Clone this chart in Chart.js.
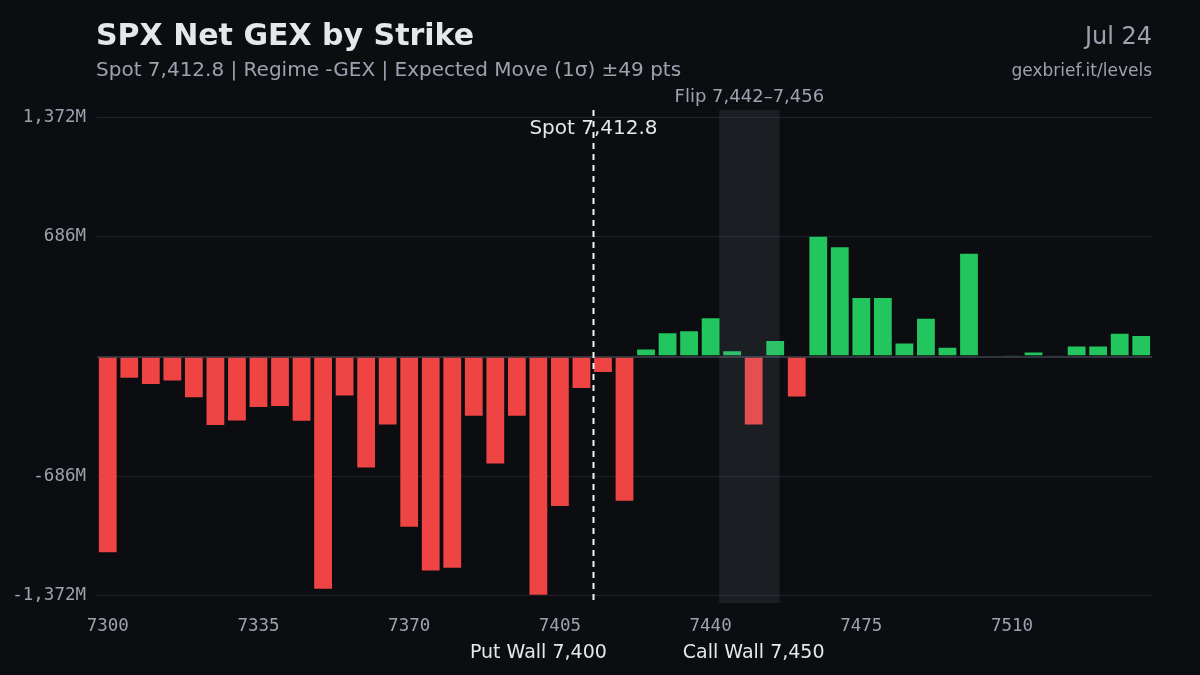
<!DOCTYPE html>
<html>
<head>
<meta charset="utf-8">
<script src="https://cdn.jsdelivr.net/npm/chart.js@4.4.1/dist/chart.umd.min.js"></script>
<style>
  html, body { margin: 0; padding: 0; background: #0b0d11; }
</style>
</head>
<body>
<canvas id="chartGex" width="1200" height="675"></canvas>
<script>
// strikes and net gamma exposure (millions)
const strikes = [
  7300, 7305, 7310, 7315, 7320, 7325, 7330, 7335, 7340, 7345,
  7350, 7355, 7360, 7365, 7370, 7375, 7380, 7385, 7390, 7395,
  7400, 7405, 7410, 7415, 7420, 7425, 7430, 7435, 7440, 7445,
  7450, 7455, 7460, 7465, 7470, 7475, 7480, 7485, 7490, 7495,
  7500, 7505, 7510, 7515, 7520, 7525, 7530, 7535, 7540
];
const netGex = [
  -1128, -128, -164, -143, -239, -399, -373, -296, -289, -375,
  -1338, -229, -642, -396, -983, -1233, -1218, -346, -619, -346,
  -1372, -864, -187, -94, -833, 46, 139, 151, 225, 36,
  -396, 94, -235, 692, 633, 342, 342, 80, 222, 56,
  595, 5, 9, 29, 4, 63, 63, 136, 124
];
const yTicks = [-1372, -686, 0, 686, 1372];

const spot = 7412.8;
const flipLow = 7442;
const flipHigh = 7456;
const putWall = 7400;
const callWall = 7450;

const titleText = "SPX Net GEX by Strike";
const subText = "Spot 7,412.8 | Regime -GEX | Expected Move (1σ) ±49 pts";
const dateText = "Jul 24";
const siteText = "gexbrief.it/levels";

const chartGex = document.getElementById("chartGex");

// strike -> pixel on the category axis (fractional index)
function strikeX(scale, s) {
  return scale.getPixelForValue((s - strikes[0]) / 5);
}

const overlays = {
  id: "overlays",
  afterDatasetsDraw(chart) {
    const { ctx, chartArea, scales } = chart;
    const x = scales.x;

    // flip zone
    const x1 = strikeX(x, flipLow);
    const x2 = strikeX(x, flipHigh);
    ctx.save();
    ctx.fillStyle = "rgba(148, 163, 184, 0.12)";
    ctx.fillRect(x1, chartArea.top, x2 - x1, chartArea.bottom - chartArea.top);

    // spot line
    const sx = Math.round(strikeX(x, spot)) + 0.5;
    ctx.strokeStyle = "#f3f4f6";
    ctx.lineWidth = 2;
    ctx.setLineDash([6, 5]);
    ctx.beginPath();
    ctx.moveTo(sx, chartArea.top);
    ctx.lineTo(sx, chartArea.bottom - 3);
    ctx.stroke();
    ctx.restore();
  },
  afterDraw(chart) {
    const { ctx, scales } = chart;
    const x = scales.x;
    ctx.save();
    ctx.textBaseline = "alphabetic";

    ctx.textAlign = "left";
    ctx.fillStyle = "#e5e7eb";
    ctx.font = "bold 30px 'DejaVu Sans'";
    ctx.fillText(titleText, 96, 45);
    ctx.fillStyle = "#9ca3af";
    ctx.font = "20px 'DejaVu Sans'";
    ctx.fillText(subText, 96, 76);

    ctx.textAlign = "right";
    ctx.font = "24px 'DejaVu Sans'";
    ctx.fillText(dateText, 1152, 44);
    ctx.font = "17px 'DejaVu Sans'";
    ctx.fillText(siteText, 1152, 76);

    ctx.textAlign = "center";
    ctx.font = "18px 'DejaVu Sans'";
    ctx.fillText("Flip 7,442–7,456", (strikeX(x, flipLow) + strikeX(x, flipHigh)) / 2, 102);

    ctx.fillStyle = "#e5e7eb";
    ctx.font = "20px 'DejaVu Sans'";
    ctx.fillText("Spot " + spot.toLocaleString("en-US", { minimumFractionDigits: 1 }), strikeX(x, spot), 134);
    ctx.font = "19px 'DejaVu Sans'";
    ctx.fillText("Put Wall " + putWall.toLocaleString("en-US"), strikeX(x, putWall), 658);
    ctx.fillText("Call Wall " + callWall.toLocaleString("en-US"), strikeX(x, callWall), 658);
    ctx.restore();
  }
};

const background = {
  id: "background",
  beforeDraw(chart) {
    const ctx = chart.ctx;
    ctx.save();
    ctx.fillStyle = "#0b0d11";
    ctx.fillRect(0, 0, chart.width, chart.height);
    ctx.restore();
  }
};

new Chart(chartGex, {
  type: "bar",
  data: {
    labels: strikes,
    datasets: [
      {
        label: "Net GEX",
        data: netGex,
        backgroundColor: netGex.map((v) => (v >= 0 ? "#22c55e" : "#ef4444")),
        borderColor: "rgba(10, 12, 16, 0.45)",
        borderWidth: 1,
        borderSkipped: "start",
        barPercentage: 0.92,
        categoryPercentage: 1.0,
      },
    ],
  },
  options: {
    responsive: false,
    animation: false,
    devicePixelRatio: 1,
    layout: { padding: { top: 110, right: 48, bottom: 0, left: 0 } },
    plugins: {
      legend: { display: false },
      tooltip: { enabled: false },
    },
    scales: {
      x: {
        grid: { display: false, drawTicks: false },
        border: { display: false },
        afterFit: (scale) => { scale.height = 72; },
        ticks: {
          autoSkip: false,
          maxRotation: 0,
          padding: 13,
          color: "#9ca3af",
          font: { family: "'DejaVu Sans Mono'", size: 17.5 },
          callback: (val, idx) => (idx % 7 === 0 ? strikes[idx] : ""),
        },
      },
      y: {
        min: -1414,
        max: 1414,
        afterFit: (scale) => { scale.width = 97; },
        afterBuildTicks: (scale) => {
          scale.ticks = yTicks.map((v) => ({ value: v }));
        },
        grid: {
          drawTicks: false,
          color: (ctx) => (ctx.tick && ctx.tick.value === 0 ? "#30353d" : "#1f232a"),
          lineWidth: (ctx) => (ctx.tick && ctx.tick.value === 0 ? 2 : 1),
        },
        border: { display: false },
        ticks: {
          padding: 11,
          color: "#9ca3af",
          font: { family: "'DejaVu Sans Mono'", size: 17.5 },
          callback: (v) => (v === 0 ? "" : v.toLocaleString("en-US") + "M"),
        },
      },
    },
  },
  plugins: [background, overlays],
});
</script>
</body>
</html>
